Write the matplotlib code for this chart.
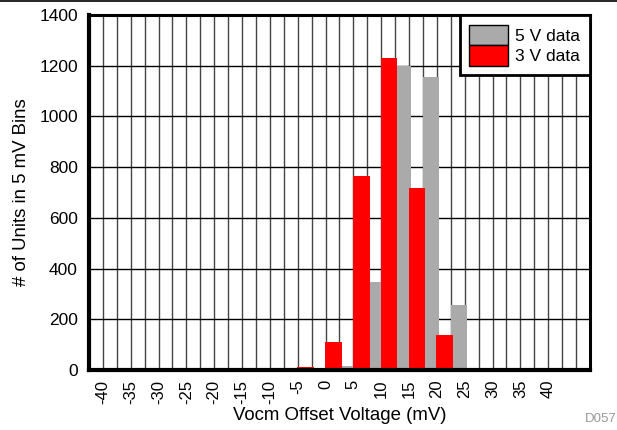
import matplotlib.pyplot as plt
from matplotlib.patches import Patch
import numpy as np

plt.rcParams['font.family'] = ['Liberation Sans', 'DejaVu Sans']

# bin start (mV) and counts
bins = [-40, -35, -30, -25, -20, -15, -10, -5, 0, 5, 10, 15, 20, 25, 30, 35, 40]
data_5v = [0, 0, 0, 0, 0, 0, 0, 0, 15, 348, 1198, 1155, 257, 5, 0, 0, 0]
data_3v = [0, 0, 0, 0, 0, 0, 0, 12, 110, 766, 1232, 719, 137, 6, 0, 2, 0]
tick_labels = [str(b) for b in bins]

fig = plt.figure(figsize=(6.17, 4.30), dpi=100)
ax = fig.add_axes([0.1442, 0.1395, 0.8120, 0.8255])

x = np.array(bins, dtype=float)
ax.bar(x + 2.5, data_5v, width=2.9, align='edge', color='#aaaaaa', zorder=3)
ax.bar(x - 0.1, data_3v, width=3.0, align='edge', color='#ff0000', zorder=4)

ax.set_xlim(-42.5, 47.5)
ax.set_ylim(0, 1400)
ax.set_yticks(np.arange(0, 1401, 200))
ax.set_xticks(list(bins) + [45])
ax.set_xticklabels(tick_labels + [''], rotation=90, fontsize=12)
ax.set_xticks(np.arange(-37.5, 45, 5), minor=True)
ax.tick_params(axis='y', labelsize=12.5, length=0, pad=8)
ax.tick_params(axis='x', which='both', length=0, pad=7)

ax.grid(True, axis='y', color='black', linewidth=1.0, zorder=1)
ax.grid(True, axis='x', which='both', color='#444444', linewidth=1.0, zorder=1)
ax.set_axisbelow(True)

for s in ax.spines.values():
    s.set_linewidth(2.2)
    s.set_zorder(5)
ax.spines['left'].set_linewidth(3)
ax.spines['bottom'].set_linewidth(3)

ax.set_xlabel('Vocm Offset Voltage (mV)', fontsize=13.4, labelpad=2)
ax.set_ylabel('# of Units in 5 mV Bins', fontsize=13.4, labelpad=7)

handles = [Patch(facecolor='#aaaaaa', edgecolor='black', linewidth=1),
           Patch(facecolor='#ff0000', edgecolor='black', linewidth=1)]
leg = ax.legend(handles, ['5 V data', '3 V data'], loc='upper right', fontsize=12.5,
                frameon=True, fancybox=False, framealpha=1, edgecolor='black',
                handlelength=2.2, handleheight=1.45, handletextpad=0.45,
                labelspacing=0.0, borderaxespad=0.0, borderpad=0.55)
leg.get_frame().set_linewidth(2)
leg.set_zorder(6)

fig.add_artist(plt.Line2D([0, 1], [0.998, 0.998], color='black', linewidth=1.2))
fig.text(0.999, 0.018, 'D057', color='#999999', fontsize=9.5, ha='right')

fig.savefig('out.png', dpi=100)
